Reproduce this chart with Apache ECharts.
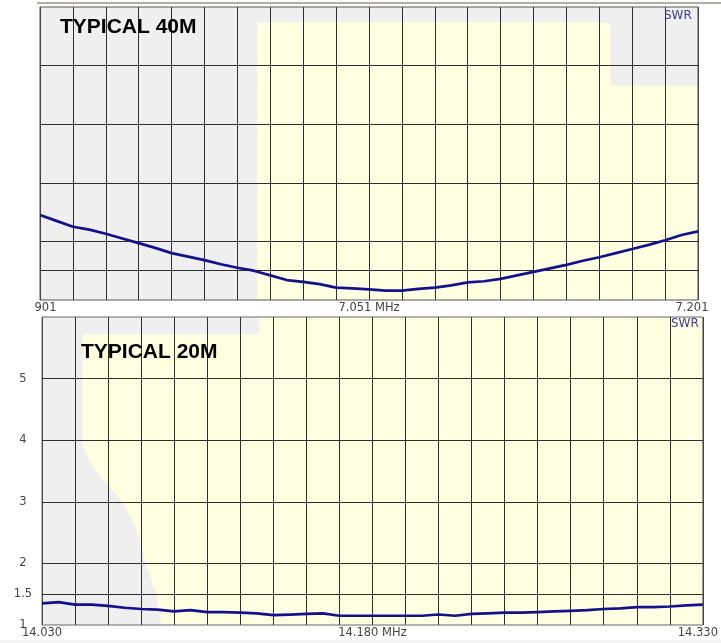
<!DOCTYPE html>
<html><head><meta charset="utf-8">
<script src="https://cdn.jsdelivr.net/npm/echarts@6/dist/echarts.min.js"></script>
<style>html,body{margin:0;padding:0;background:#fff}#c{width:721px;height:643px}</style>
</head><body><div id="c"></div><script>
// ---- data ----
const freq40 = [6.901, 6.9085, 6.916, 6.9235, 6.931, 6.9385, 6.946, 6.9535, 6.961, 6.9685, 6.976, 6.9835, 6.991, 6.9985, 7.006, 7.0135, 7.021, 7.0285, 7.036, 7.0435, 7.051, 7.0585, 7.066, 7.0735, 7.081, 7.0885, 7.096, 7.1035, 7.111, 7.1185, 7.126, 7.1335, 7.141, 7.1485, 7.156, 7.1635, 7.171, 7.1785, 7.186, 7.1935, 7.201];
const swr40 = [2.45, 2.35, 2.25, 2.20, 2.13, 2.05, 1.97, 1.89, 1.80, 1.74, 1.68, 1.61, 1.55, 1.50, 1.42, 1.34, 1.31, 1.27, 1.21, 1.20, 1.18, 1.16, 1.16, 1.19, 1.21, 1.25, 1.30, 1.32, 1.36, 1.42, 1.48, 1.54, 1.60, 1.67, 1.73, 1.80, 1.87, 1.94, 2.02, 2.11, 2.17];
const freq20 = [14.030, 14.0375, 14.045, 14.0525, 14.060, 14.0675, 14.075, 14.0825, 14.090, 14.0975, 14.105, 14.1125, 14.120, 14.1275, 14.135, 14.1425, 14.150, 14.1575, 14.165, 14.1725, 14.180, 14.1875, 14.195, 14.2025, 14.210, 14.2175, 14.225, 14.2325, 14.240, 14.2475, 14.255, 14.2625, 14.270, 14.2775, 14.285, 14.2925, 14.300, 14.3075, 14.315, 14.3225, 14.330];
const swr20 = [1.35, 1.37, 1.33, 1.33, 1.31, 1.28, 1.26, 1.25, 1.22, 1.24, 1.21, 1.21, 1.20, 1.19, 1.16, 1.17, 1.18, 1.19, 1.15, 1.15, 1.15, 1.15, 1.15, 1.15, 1.17, 1.15, 1.18, 1.19, 1.20, 1.20, 1.21, 1.22, 1.23, 1.24, 1.26, 1.27, 1.29, 1.29, 1.30, 1.32, 1.33];
const xLabels40 = ['6.901', '7.051 MHz', '7.201'];
const xLabels20 = ['14.030', '14.180 MHz', '14.330'];
const yLabels20 = ['1', '1.5', '2', '3', '4', '5'];
const yGridValues = [1.5, 2, 3, 4, 5];
const titles = ['TYPICAL 40M', 'TYPICAL 20M'];
const unitLabel = 'SWR';
// background shading (frequency, SWR)
const shade40 = [[7.000, 1], [7.000, 5.74], [7.157, 5.74], [7.1595, 5.725], [7.161, 5.70], [7.161, 4.66], [7.201, 4.66], [7.201, 1]];
const shade20 = [[14.0485, 5.72], [14.1285, 5.72], [14.1285, 6], [14.330, 6], [14.330, 1], [14.0842, 1], [14.0820, 1.49], [14.0774, 1.97], [14.0729, 2.56], [14.0666, 3.00], [14.0576, 3.37], [14.0517, 3.65], [14.0485, 3.92]];

const FONT = 'DejaVu Sans';
const LBL = '#444';

function xFmt(freqs, labels) {
  const lo = freqs[0], hi = freqs[freqs.length - 1], mid = (lo + hi) / 2;
  return function (v) {
    if (Math.abs(v - lo) < 1e-6) return labels[0];
    if (Math.abs(v - mid) < 1e-6) return labels[1];
    if (Math.abs(v - hi) < 1e-6) return '{r|' + labels[2] + '}';
    return '';
  };
}
function xAxis(idx, freqs, labels, padR) {
  return {
    type: 'value', gridIndex: idx, min: freqs[0], max: freqs[freqs.length - 1], interval: 0.015, z: 3,
    axisLine: {show: false}, axisTick: {show: false},
    splitLine: {show: true, lineStyle: {color: '#2e2e2e', width: 1}},
    axisLabel: {show: true, showMinLabel: true, showMaxLabel: true, margin: 2, formatter: xFmt(freqs, labels),
      fontFamily: FONT, fontSize: 11.5, color: LBL,
      rich: {r: {fontFamily: FONT, fontSize: 11.5, color: LBL, padding: [0, padR, 0, 0]}}}
  };
}
function yAxis(idx, showLabels) {
  return {
    type: 'value', gridIndex: idx, min: 1, max: 6, interval: 0.5, z: 3,
    axisLine: {show: false}, axisTick: {show: false}, splitLine: {show: false},
    axisLabel: {show: showLabels, align: 'center', margin: 19, fontFamily: FONT, fontSize: 11.5, color: LBL,
      formatter: v => (yLabels20.indexOf(String(v)) >= 0 ? String(v) : '')}
  };
}
function shadeSeries(idx, freqs, pts) {
  const lo = freqs[0], hi = freqs[freqs.length - 1];
  return {
    type: 'custom', xAxisIndex: idx, yAxisIndex: idx, z: 1, silent: true, clip: true, data: [[lo, 1]],
    renderItem: (params, api) => {
      const a = api.coord([lo, 6]), b = api.coord([hi, 1]);
      return {type: 'group', children: [
        {type: 'rect', shape: {x: a[0], y: a[1], width: b[0] - a[0], height: b[1] - a[1]}, style: {fill: '#efefef'}},
        {type: 'polygon', shape: {points: pts.map(p => api.coord(p))}, style: {fill: '#fffee0'}}
      ]};
    }
  };
}
function lineSeries(idx, freqs, vals) {
  return {
    type: 'line', xAxisIndex: idx, yAxisIndex: idx, z: 6, showSymbol: false, silent: true,
    data: freqs.map((f, i) => [f, vals[i]]),
    lineStyle: {color: '#12128c', width: 2.7},
    markLine: {silent: true, symbol: 'none', label: {show: false}, animation: false,
      lineStyle: {color: '#2e2e2e', width: 1, type: 'solid'}, emphasis: {disabled: true},
      data: yGridValues.map(v => ({yAxis: v}))}
  };
}

const chart = echarts.init(document.getElementById('c'), null, {renderer: 'canvas'});
chart.setOption({
  animation: false,
  backgroundColor: '#ffffff',
  grid: [
    {left: 40, top: 7, width: 658, height: 293, show: true, backgroundColor: 'transparent', borderColor: '#555', borderWidth: 1, z: 4},
    {left: 42, top: 317, width: 664, height: 308, show: true, backgroundColor: 'transparent', borderColor: '#666', borderWidth: 1, z: 4}
  ],
  xAxis: [xAxis(0, freq40, xLabels40, 12), xAxis(1, freq20, xLabels20, 10)],
  yAxis: [yAxis(0, false), yAxis(1, true)],
  title: [
    {text: titles[0], left: 60, top: 17, padding: 0, z: 8, textStyle: {fontFamily: 'Liberation Sans', fontWeight: 'bold', fontSize: 21, color: '#000'}},
    {text: titles[1], left: 81, top: 342, padding: 0, z: 8, textStyle: {fontFamily: 'Liberation Sans', fontWeight: 'bold', fontSize: 21, color: '#000'}}
  ],
  series: [
    shadeSeries(0, freq40, shade40), lineSeries(0, freq40, swr40),
    shadeSeries(1, freq20, shade20), lineSeries(1, freq20, swr20)
  ],
  graphic: [
    {type: 'rect', shape: {x: 37, y: 2, width: 684, height: 2}, style: {fill: '#b4aea3'}, silent: true},
    {type: 'rect', shape: {x: 0, y: 301, width: 35, height: 15}, style: {fill: '#ffffff'}, z: 100, silent: true},
    {type: 'rect', shape: {x: 0, y: 640, width: 721, height: 3}, style: {fill: '#f2f2f2'}, silent: true},
    {type: 'text', left: 664, top: 10, z: 10, silent: true, style: {text: unitLabel, fontFamily: FONT, fontSize: 12, fill: '#3c3c96'}},
    {type: 'text', left: 671, top: 318, z: 10, silent: true, style: {text: unitLabel, fontFamily: FONT, fontSize: 12, fill: '#3c3c96'}}
  ]
});
</script></body></html>
